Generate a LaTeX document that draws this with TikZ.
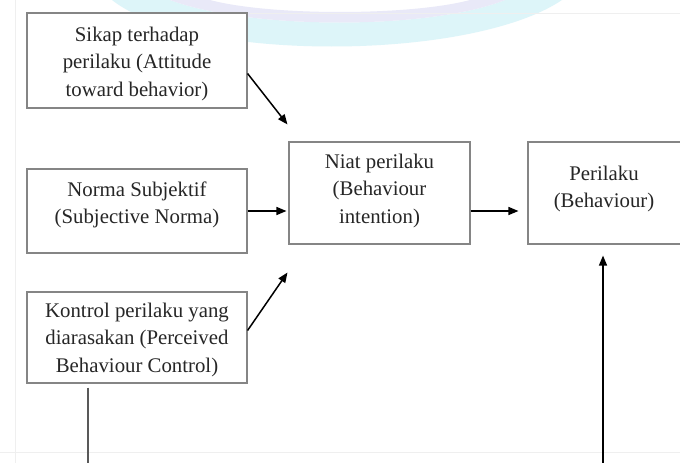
\documentclass[tikz,border=0pt]{standalone}
\usepackage{fontspec}
\setmainfont{Liberation Serif}
\usetikzlibrary{arrows.meta,calc}
\definecolor{boxline}{HTML}{858585}
\definecolor{txt}{HTML}{262626}
\definecolor{wmcyan}{HTML}{DDF5F9}
\definecolor{wmlav}{HTML}{E9E9F8}
\definecolor{pageline}{HTML}{EFEFEF}
\tikzset{
  box/.style={draw=boxline, line width=1.1pt, fill=white, inner sep=0pt},
  boxtext/.style={text=txt, align=center, inner sep=0pt, anchor=north,
    font=\fontsize{20.8}{27.5}\selectfont},
  arr/.style={line width=1.5pt, draw=black, -{Triangle[length=10pt,width=8pt]}},
  vline/.style={line width=1.4pt, draw=black!65},
}
\begin{document}
\begin{tikzpicture}[x=1pt,y=-1pt]
\useasboundingbox (0,0) rectangle (680,463);
\clip (0,0) rectangle (680,463);
\fill[white] (0,0) rectangle (680,463);
% watermark
\fill[wmcyan] (112,0) .. controls (190,62) and (470,62) .. (562,0) -- (505,0) .. controls (430,30) and (250,30) .. (170,0) -- cycle;
\fill[wmlav] (170,0) .. controls (250,30) and (430,30) .. (505,0) -- (470,0) .. controls (410,16) and (270,16) .. (210,0) -- cycle;
% faint page lines
\draw[pageline, line width=0.8pt] (250,13) -- (680,13);
\draw[pageline, line width=0.8pt] (15,0) -- (15,463);
\draw[pageline, line width=0.8pt] (0,452) -- (680,452);
% boxes
\node[box, minimum width=220pt, minimum height=95pt] (sa) at (137,60.5) {};
\node[box, minimum width=220pt, minimum height=84pt] (sn) at (137,211) {};
\node[box, minimum width=220pt, minimum height=91pt] (kp) at (137,337.5) {};
\node[box, minimum width=181pt, minimum height=102pt] (ni) at (379.5,193) {};
\node[box, minimum width=160pt, minimum height=102pt] (pb) at (608,193) {};
% texts
\node[boxtext] (sa-t) at ([yshift=-14pt]sa.north) {Sikap terhadap\\perilaku (Attitude\\toward behavior)};
\node[boxtext] (sn-t) at ([yshift=-13pt]sn.north) {Norma Subjektif\\(Subjective Norma)};
\node[boxtext] (kp-t) at ([yshift=-11pt]kp.north) {Kontrol perilaku yang\\diarasakan (Perceived\\Behaviour Control)};
\node[boxtext] (ni-t) at ([yshift=-12pt]ni.north) {Niat perilaku\\(Behaviour\\intention)};
\node[boxtext] (pb-t) at ([xshift=-4pt,yshift=-24pt]pb.north) {Perilaku\\(Behaviour)};
% free ends
\coordinate (kbot) at (88,470);
\coordinate (pbot) at (603,470);
% connectors
\draw[arr] ([yshift=-13pt]sa.east) -- ([xshift=-1pt,yshift=17pt]ni.north west);
\draw[arr, shorten >=2pt] (sn.east) -- (sn.east -| ni.west);
\draw[arr] ([yshift=7pt]kp.east) -- ([xshift=-1pt,yshift=-28pt]ni.south west);
\draw[arr, shorten >=9pt] ([yshift=-18pt]ni.east) -- ([yshift=-18pt]ni.east -| pb.west);
\draw[vline] ([yshift=-4pt]kp.south -| kbot) -- (kbot);
\draw[arr, line width=1.4pt, shorten >=11pt] (pbot) -- (pbot |- pb.south);
\end{tikzpicture}
\end{document}
